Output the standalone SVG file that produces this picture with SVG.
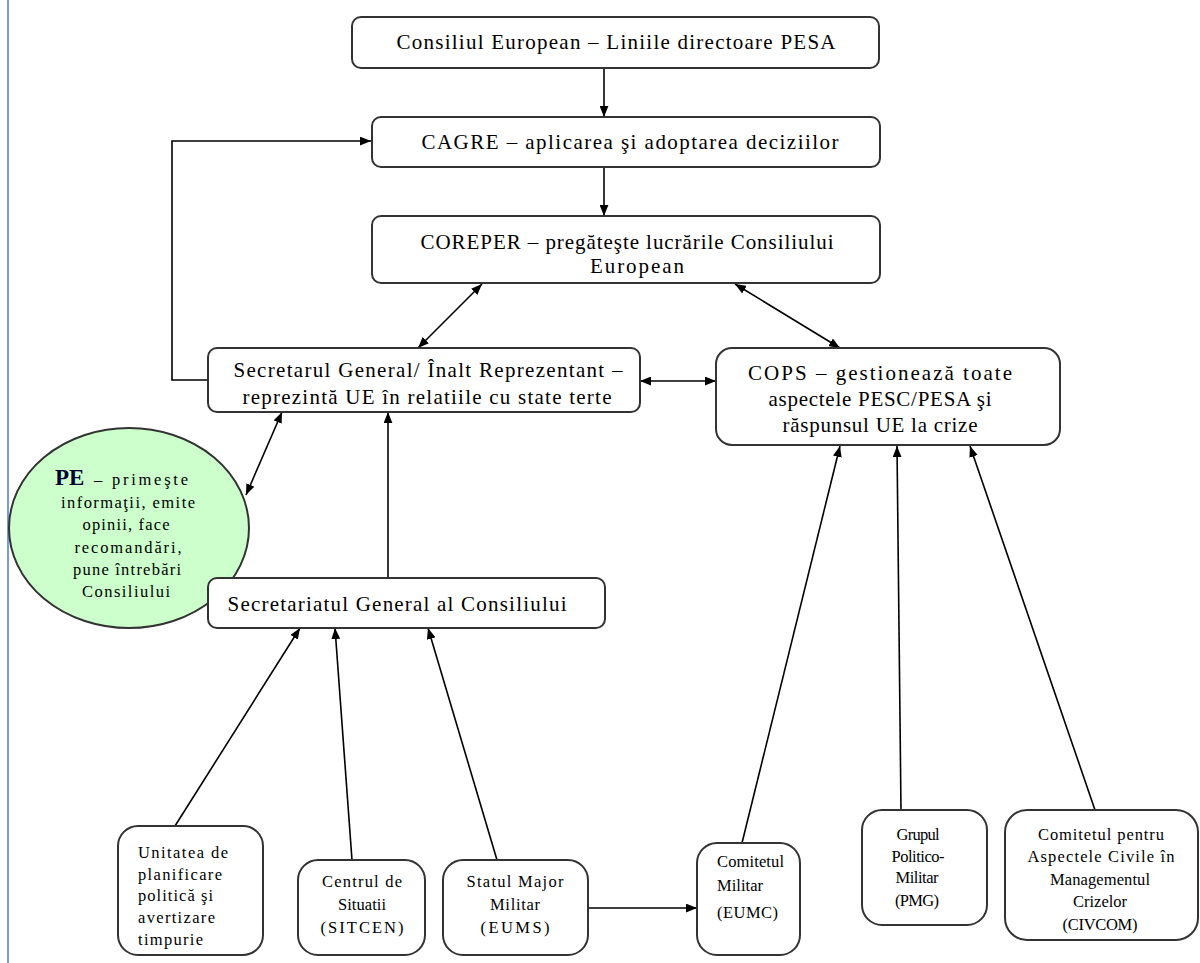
<svg xmlns="http://www.w3.org/2000/svg" width="1200" height="963" viewBox="0 0 1200 963">
<defs>
<marker id="ah" viewBox="0 0 10 8" refX="10" refY="4" markerWidth="11" markerHeight="9" markerUnits="userSpaceOnUse" orient="auto-start-reverse">
<path d="M0,0 L10,4 L0,8 z" fill="#000"/>
</marker>
<style>
.box{fill:#fff;stroke:#333;stroke-width:2}
.t{font-family:"Liberation Serif","Times New Roman",serif;font-size:21px;fill:#000;text-anchor:middle}
.s{font-family:"Liberation Serif","Times New Roman",serif;font-size:16.5px;fill:#000;text-anchor:middle}
.l{text-anchor:start}
.pe{font-family:"Liberation Serif","Times New Roman",serif;font-size:23px;font-weight:bold;fill:#000033}
.c{fill:none;stroke:#000;stroke-width:1.6}
</style>
</defs>
<rect width="1200" height="963" fill="#fff"/>
<line x1="8" y1="0" x2="8" y2="963" stroke="#4a78d8" stroke-width="1.5"/>

<g id="connectors">
<line class="c" x1="604" y1="68" x2="604" y2="117" marker-end="url(#ah)"/>
<line class="c" x1="604" y1="167" x2="604" y2="216" marker-end="url(#ah)"/>
<polyline class="c" stroke-width="2.4" points="208,380 172,380 172,141 371,141" marker-end="url(#ah)"/>
<line class="c" x1="482" y1="284" x2="418" y2="348" marker-start="url(#ah)" marker-end="url(#ah)"/>
<line class="c" x1="735" y1="284" x2="840" y2="348" marker-start="url(#ah)" marker-end="url(#ah)"/>
<line class="c" x1="640" y1="381" x2="716" y2="381" marker-start="url(#ah)" marker-end="url(#ah)"/>
<line class="c" x1="282" y1="412" x2="246" y2="495" marker-start="url(#ah)" marker-end="url(#ah)"/>
<line class="c" x1="388" y1="578" x2="388" y2="412" marker-end="url(#ah)"/>
<line class="c" x1="175" y1="826" x2="300" y2="628" marker-end="url(#ah)"/>
<line class="c" x1="352" y1="860" x2="335" y2="628" marker-end="url(#ah)"/>
<line class="c" x1="497" y1="860" x2="428" y2="628" marker-end="url(#ah)"/>
<line class="c" x1="588" y1="908" x2="697" y2="908" marker-end="url(#ah)"/>
<line class="c" x1="742" y1="843" x2="840" y2="446" marker-end="url(#ah)"/>
<line class="c" x1="901" y1="810" x2="897" y2="446" marker-end="url(#ah)"/>
<line class="c" x1="1095" y1="810" x2="970" y2="446" marker-end="url(#ah)"/>
</g>

<g id="consiliul">
<rect class="box" x="352" y="17" width="527" height="51" rx="9"/>
<text class="t" x="616" y="49" textLength="439" lengthAdjust="spacing">Consiliul European – Liniile directoare PESA</text>
</g>

<g id="cagre">
<rect class="box" x="372" y="117" width="508" height="50" rx="9"/>
<text class="t" x="630" y="149" textLength="417" lengthAdjust="spacing">CAGRE –  aplicarea şi adoptarea deciziilor</text>
</g>

<g id="coreper">
<rect class="box" x="372" y="216" width="508" height="67" rx="9"/>
<text class="t" x="627" y="249" textLength="413" lengthAdjust="spacing">COREPER – pregăteşte lucrările Consiliului</text>
<text class="t" x="637" y="273" textLength="94" lengthAdjust="spacing">European</text>
</g>

<g id="secretarul">
<rect class="box" x="208" y="348" width="432" height="64" rx="9"/>
<text class="t" x="428" y="377" textLength="389" lengthAdjust="spacing">Secretarul General/ Înalt Reprezentant –</text>
<text class="t" x="427" y="404" textLength="369" lengthAdjust="spacing">reprezintă UE în relatiile cu state terte</text>
</g>

<g id="cops">
<rect class="box" x="716" y="348" width="344" height="97" rx="16"/>
<text class="t" x="880" y="380" textLength="264" lengthAdjust="spacing">COPS – gestionează toate</text>
<text class="t" x="880" y="406" textLength="223" lengthAdjust="spacing">aspectele PESC/PESA şi</text>
<text class="t" x="880" y="432" textLength="195" lengthAdjust="spacing">răspunsul UE la crize</text>
</g>

<g id="pe">
<ellipse cx="129" cy="528" rx="120" ry="100" fill="#ccffcc" stroke="#333" stroke-width="2"/>
<text class="pe" x="55" y="485">PE</text>
<text class="s l" x="94" y="485" textLength="94" lengthAdjust="spacing">– primeşte</text>
<text class="s" x="128" y="508" textLength="134" lengthAdjust="spacing">informaţii, emite</text>
<text class="s" x="126" y="530" textLength="87" lengthAdjust="spacing">opinii, face</text>
<text class="s" x="128" y="553" textLength="107" lengthAdjust="spacing">recomandări,</text>
<text class="s" x="127" y="575" textLength="108" lengthAdjust="spacing">pune întrebări</text>
<text class="s" x="126" y="597" textLength="88" lengthAdjust="spacing">Consiliului</text>
</g>

<g id="secretariatul">
<rect class="box" x="208" y="578" width="397" height="50" rx="9"/>
<text class="t" x="397" y="611" textLength="339" lengthAdjust="spacing">Secretariatul General al Consiliului</text>
</g>

<g id="unitatea">
<rect class="box" x="118" y="826" width="145" height="129" rx="20"/>
<text class="s l" x="138" y="858" textLength="90" lengthAdjust="spacing">Unitatea de</text>
<text class="s l" x="138" y="880" textLength="84" lengthAdjust="spacing">planificare</text>
<text class="s l" x="138" y="901" textLength="75" lengthAdjust="spacing">politică şi</text>
<text class="s l" x="138" y="923" textLength="77" lengthAdjust="spacing">avertizare</text>
<text class="s l" x="138" y="945" textLength="65" lengthAdjust="spacing">timpurie</text>
</g>

<g id="centrul">
<rect class="box" x="298" y="860" width="127" height="95" rx="20"/>
<text class="s" x="362" y="887" textLength="80" lengthAdjust="spacing">Centrul de</text>
<text class="s" x="362" y="910" textLength="48" lengthAdjust="spacing">Situatii</text>
<text class="s" x="362" y="933" textLength="83" lengthAdjust="spacing">(SITCEN)</text>
</g>

<g id="statul">
<rect class="box" x="443" y="860" width="145" height="95" rx="20"/>
<text class="s" x="515" y="887" textLength="97" lengthAdjust="spacing">Statul Major</text>
<text class="s" x="515" y="910" textLength="50" lengthAdjust="spacing">Militar</text>
<text class="s" x="515" y="933" textLength="69" lengthAdjust="spacing">(EUMS)</text>
</g>

<g id="eumc">
<rect class="box" x="697" y="843" width="103" height="112" rx="20"/>
<text class="s l" x="717" y="867" textLength="67" lengthAdjust="spacing">Comitetul</text>
<text class="s l" x="717" y="891" textLength="46" lengthAdjust="spacing">Militar</text>
<text class="s l" x="717" y="918" textLength="61" lengthAdjust="spacing">(EUMC)</text>
</g>

<g id="pmg">
<rect class="box" x="862" y="810" width="125" height="115" rx="20"/>
<text class="s" x="918" y="840" textLength="43" lengthAdjust="spacing">Grupul</text>
<text class="s" x="918" y="862" textLength="53" lengthAdjust="spacing">Politico-</text>
<text class="s" x="917" y="883" textLength="43" lengthAdjust="spacing">Militar</text>
<text class="s" x="917" y="906" textLength="44" lengthAdjust="spacing">(PMG)</text>
</g>

<g id="civcom">
<rect class="box" x="1005" y="810" width="193" height="130" rx="22"/>
<text class="s" x="1101" y="840" textLength="126" lengthAdjust="spacing">Comitetul pentru</text>
<text class="s" x="1101" y="862" textLength="147" lengthAdjust="spacing">Aspectele Civile în</text>
<text class="s" x="1100" y="885" textLength="100" lengthAdjust="spacing">Managementul</text>
<text class="s" x="1100" y="907" textLength="54" lengthAdjust="spacing">Crizelor</text>
<text class="s" x="1100" y="930" textLength="75" lengthAdjust="spacing">(CIVCOM)</text>
</g>
</svg>
